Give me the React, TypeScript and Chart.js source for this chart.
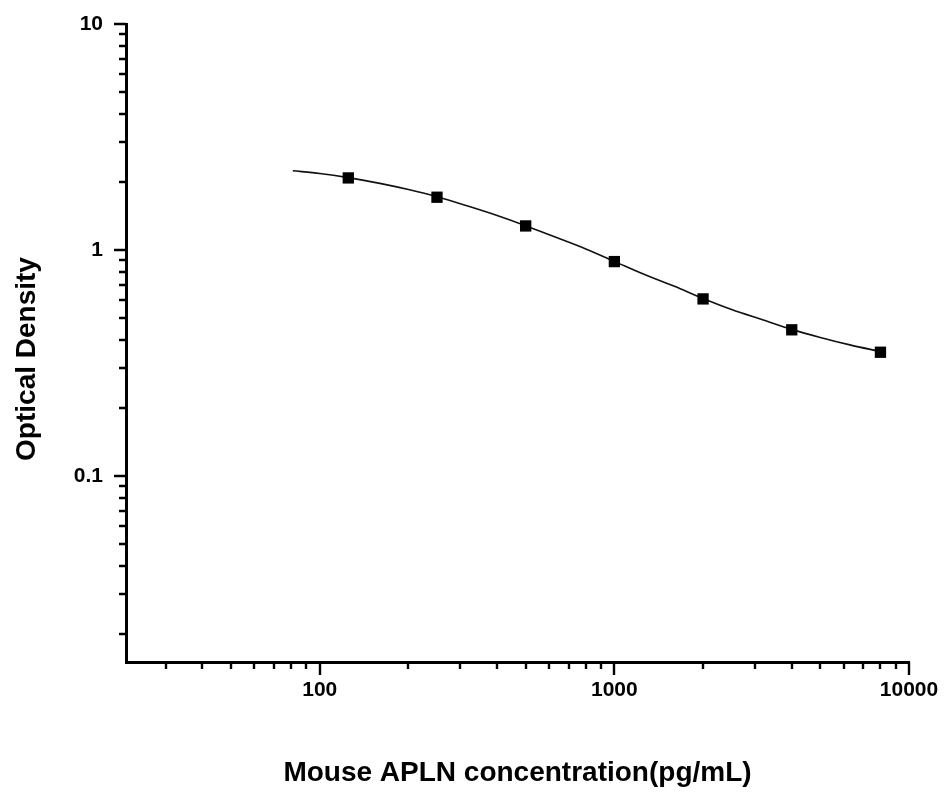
import React, { useEffect, useRef } from 'react';
import { Chart, registerables } from 'chart.js';

Chart.register(...registerables);

// Measured standards (concentration, pg/mL) and optical density
const concentrations = [125, 250, 500, 1000, 2000, 4000, 8000];
const odValues = [2.083, 1.711, 1.277, 0.888, 0.607, 0.443, 0.3525];

// Fitted curve
const curveX = [81, 100, 125, 160, 200, 250, 320, 400, 500, 630, 800, 1000, 1260, 1600, 2000, 2500, 3200, 4000, 5000, 6300, 8000];
const curveY = [2.24, 2.18, 2.09, 1.97, 1.85, 1.72, 1.56, 1.42, 1.28, 1.14, 1.01, 0.89, 0.78, 0.69, 0.61, 0.545, 0.49, 0.445, 0.41, 0.38, 0.355];

// Axes
const xMajorTicks = [100, 1000, 10000];
const xTickLabels = ['100', '1000', '10000'];
const yMajorTicks = [0.1, 1, 10];
const yTickLabels = ['0.1', '1', '10'];
const xRange = [22, 10000];
const yRange = [0.015, 10];
const xTitle = 'Mouse APLN concentration(pg/mL)';
const yTitle = 'Optical Density';

const FONT = "'Liberation Sans', Arial, Helvetica, sans-serif";

function logTickValues(min: number, max: number): number[] {
  const out: number[] = [];
  const e0 = Math.floor(Math.log10(min));
  const e1 = Math.ceil(Math.log10(max));
  for (let e = e0; e <= e1; e++) {
    for (let m = 1; m <= 9; m++) {
      const v = Number((m * Math.pow(10, e)).toPrecision(6));
      if (v >= min * (1 - 1e-9) && v <= max * (1 + 1e-9)) out.push(v);
    }
  }
  return out;
}

function majorIndex(majors: number[], v: number): number {
  return majors.findIndex((m) => Math.abs(m - v) / m < 1e-6);
}

const tickMarks = {
  id: 'tickMarks',
  afterDraw(chart: any) {
    const { ctx, chartArea } = chart;
    const xs = chart.scales.x;
    const ys = chart.scales.y;
    ctx.save();
    ctx.strokeStyle = '#000';
    ctx.lineWidth = 2.4;
    ctx.lineCap = 'butt';
    ctx.beginPath();
    xs.ticks.forEach((t: any) => {
      const p = Math.round(xs.getPixelForValue(t.value));
      const len = majorIndex(xMajorTicks, t.value) >= 0 ? 13 : 7;
      ctx.moveTo(p, chartArea.bottom);
      ctx.lineTo(p, chartArea.bottom + len);
    });
    ys.ticks.forEach((t: any) => {
      const p = Math.round(ys.getPixelForValue(t.value));
      const len = majorIndex(yMajorTicks, t.value) >= 0 ? 12 : 7;
      ctx.moveTo(chartArea.left, p);
      ctx.lineTo(chartArea.left - len, p);
    });
    ctx.stroke();

    // y-axis title, set slightly below the plot's vertical centre as in the reference
    ctx.fillStyle = '#000';
    ctx.font = `bold 28px ${FONT}`;
    ctx.textAlign = 'center';
    ctx.textBaseline = 'middle';
    ctx.translate(27, (chartArea.top + chartArea.bottom) / 2 + 16);
    ctx.rotate(-Math.PI / 2);
    ctx.fillText(yTitle, 0, 0);
    ctx.restore();
  },
};

const zeroPadding = (scale: any) => {
  scale.paddingTop = 0;
  scale.paddingBottom = 0;
  scale.paddingLeft = 0;
  scale.paddingRight = 0;
};

export default function App() {
  const canvasRef = useRef<HTMLCanvasElement | null>(null);

  useEffect(() => {
    if (!canvasRef.current) return;
    const chart = new Chart(canvasRef.current, {
      type: 'scatter',
      data: {
        datasets: [
          {
            label: 'Standards',
            data: concentrations.map((x, i) => ({ x, y: odValues[i] })),
            showLine: false,
            pointStyle: 'rect',
            pointRadius: 8,
            pointBackgroundColor: '#000',
            pointBorderColor: '#000',
            pointBorderWidth: 0,
            order: 0,
          },
          {
            label: 'Fit',
            data: curveX.map((x, i) => ({ x, y: curveY[i] })),
            showLine: true,
            borderColor: '#111',
            borderWidth: 1.6,
            pointRadius: 0,
            cubicInterpolationMode: 'monotone',
            fill: false,
            order: 1,
          },
        ],
      },
      options: {
        responsive: false,
        animation: false,
        events: [],
        layout: { padding: { top: 24, right: 36, bottom: 0, left: 0 } },
        plugins: {
          legend: { display: false },
          tooltip: { enabled: false },
        },
        scales: {
          x: {
            type: 'logarithmic',
            position: 'bottom',
            min: xRange[0],
            max: xRange[1],
            grid: { display: false, drawTicks: false },
            border: { display: true, color: '#000', width: 3 },
            afterBuildTicks: (scale: any) => {
              scale.ticks = logTickValues(xRange[0], xRange[1]).map((v) => ({ value: v, major: majorIndex(xMajorTicks, v) >= 0 }));
            },
            afterFit: (scale: any) => {
              scale.height = 130;
              zeroPadding(scale);
            },
            ticks: {
              autoSkip: false,
              maxRotation: 0,
              minRotation: 0,
              padding: 16,
              color: '#000',
              font: { family: FONT, size: 21, weight: 'bold' },
              callback: (value: any) => {
                const i = majorIndex(xMajorTicks, Number(value));
                return i >= 0 ? xTickLabels[i] : '';
              },
            },
            title: {
              display: true,
              text: xTitle,
              color: '#000',
              font: { family: FONT, size: 28, weight: 'bold' },
              padding: { top: 0, bottom: 2 },
            },
          },
          y: {
            type: 'logarithmic',
            position: 'left',
            min: yRange[0],
            max: yRange[1],
            grid: { display: false, drawTicks: false },
            border: { display: true, color: '#000', width: 3 },
            afterBuildTicks: (scale: any) => {
              scale.ticks = logTickValues(yRange[0], yRange[1]).map((v) => ({ value: v, major: majorIndex(yMajorTicks, v) >= 0 }));
            },
            afterFit: (scale: any) => {
              scale.width = 126;
              zeroPadding(scale);
            },
            ticks: {
              autoSkip: false,
              padding: 23,
              color: '#000',
              font: { family: FONT, size: 21, weight: 'bold' },
              callback: (value: any) => {
                const i = majorIndex(yMajorTicks, Number(value));
                return i >= 0 ? yTickLabels[i] : '';
              },
            },
            title: { display: false, text: yTitle },
          },
        },
      },
      plugins: [tickMarks],
    } as any);
    return () => chart.destroy();
  }, []);

  return (
    <div style={{ position: 'absolute', left: 0, top: 0, width: 945, height: 792, background: '#fff' }}>
      <canvas ref={canvasRef} width={945} height={792} style={{ display: 'block' }} />
    </div>
  );
}
